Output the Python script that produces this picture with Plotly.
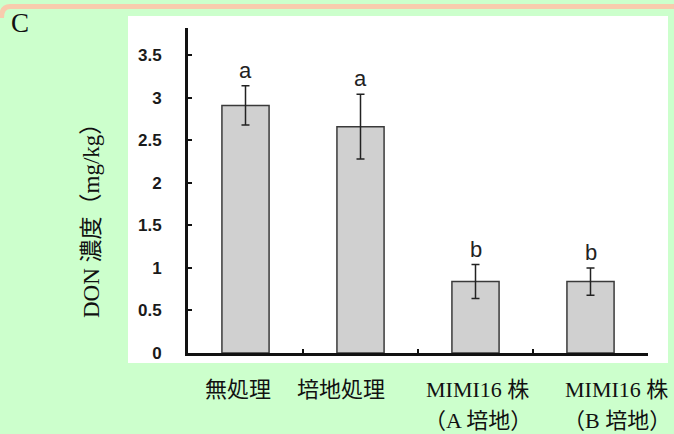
import plotly.graph_objects as go

# DON concentration per treatment (mean ± error)
categories = ["無処理", "培地処理", "MIMI16 株\n（A 培地）", "MIMI16 株\n（B 培地）"]
don_mean = [2.91, 2.66, 0.84, 0.84]
don_err = [0.23, 0.38, 0.20, 0.16]
sig_letters = ["a", "a", "b", "b"]
y_ticks = [0, 0.5, 1, 1.5, 2, 2.5, 3, 3.5]

W, H = 674, 434
L, R, T, B = 188, 26, 28, 81
PW, PH = W - L - R, H - T - B


def px_x(px):
    return (px - L) / PW


def px_y(py):
    return (H - B - py) / PH


GREEN = "#CCFFCC"
PEACH = "#F8CBAD"
SERIF = "Liberation Serif, Times New Roman, Noto Sans CJK JP, serif"
SANS = "Liberation Sans, Arial, sans-serif"

fig = go.Figure()
fig.add_trace(go.Bar(
    x=categories,
    y=don_mean,
    width=0.41,
    marker=dict(color="#D0D0D0", line=dict(color="#3a3a3a", width=1.5)),
    error_y=dict(type="data", array=don_err, visible=True,
                 color="#222222", thickness=1.5, width=4),
    showlegend=False,
))

annotations = []
# significance letters above the error bars
for c, m, e, s in zip(categories, don_mean, don_err, sig_letters):
    annotations.append(dict(
        x=c, y=m + e, xref="x", yref="y", text=s, showarrow=False,
        yanchor="bottom", yshift=1,
        font=dict(family=SANS, size=22, color="#222222"),
    ))

# category labels (one annotation per line)
label_shift = [-8, -20, 2, 26]
for c, dx in zip(categories, label_shift):
    for i, line in enumerate(c.split("\n")):
        annotations.append(dict(
            x=c, xref="x", y=px_y(389 + 31 * i), yref="paper",
            text=line, showarrow=False, xshift=dx, yanchor="middle",
            font=dict(family=SERIF, size=22, color="#111111"),
        ))

# y-axis title
annotations.append(dict(
    x=px_x(91), y=px_y(215), xref="paper", yref="paper",
    text="DON 濃度（mg/kg）", textangle=-90, showarrow=False,
    xanchor="center", yanchor="middle",
    font=dict(family=SERIF, size=23, color="#111111"),
))
# panel letter
annotations.append(dict(
    x=px_x(19.5), y=px_y(23), xref="paper", yref="paper",
    text="C", showarrow=False, xanchor="center", yanchor="middle",
    font=dict(family=SERIF, size=27, color="#111111"),
))

shapes = [
    # white chart panel
    dict(type="rect", xref="paper", yref="paper", layer="below",
         x0=px_x(128), x1=px_x(668), y0=px_y(363), y1=px_y(16),
         fillcolor="white", line=dict(width=0)),
    # peach frame edge across the top
    dict(type="path", xref="paper", yref="paper", layer="below",
         path=(f"M {px_x(1.5)},{px_y(18)} Q {px_x(1.5)},{px_y(6.5)} {px_x(10)},{px_y(6.5)} "
               f"L {px_x(676)},{px_y(6.5)}"),
         line=dict(color=PEACH, width=5)),
]

fig.update_layout(
    width=W, height=H, autosize=False,
    margin=dict(l=L, r=R, t=T, b=B, pad=0),
    paper_bgcolor=GREEN, plot_bgcolor="white",
    bargap=0.59,
    annotations=annotations, shapes=shapes,
    xaxis=dict(
        range=[-0.5, 3.5], autorange=False,
        showgrid=False, zeroline=False, showticklabels=False,
        showline=True, linecolor="#111111", linewidth=3,
        ticks="inside", tickson="boundaries", ticklen=4, tickwidth=2,
        tickcolor="#111111",
    ),
    yaxis=dict(
        range=[0, 3.82], autorange=False, showgrid=False, zeroline=False,
        showline=True, linecolor="#111111", linewidth=3,
        ticks="inside", ticklen=4, tickwidth=2, tickcolor="#111111",
        tickvals=y_ticks, ticktext=[f"{v:g}" for v in y_ticks],
        ticklabelstandoff=20,
        tickfont=dict(family=SANS, size=17, color="#1a1a1a", weight="bold"),
    ),
)

fig.write_html("out.html")
